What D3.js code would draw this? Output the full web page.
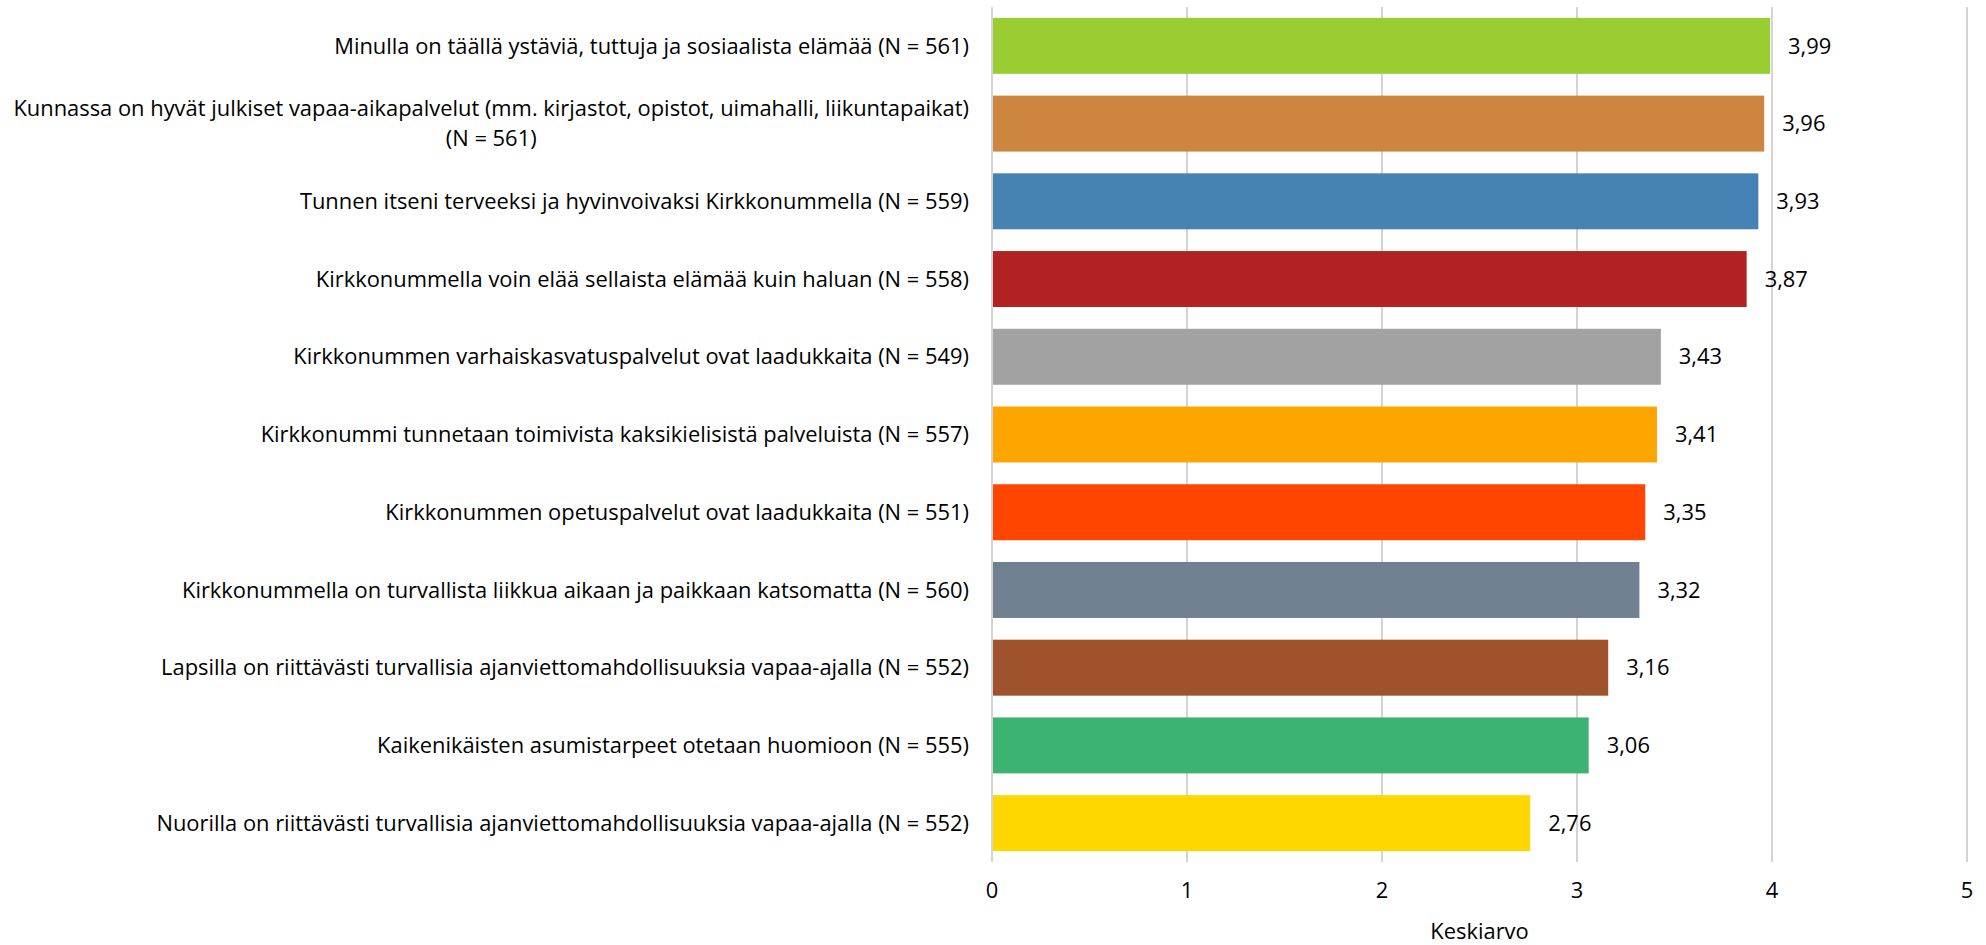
<!DOCTYPE html>
<html>
<head>
<meta charset="utf-8">
<script src="https://cdn.jsdelivr.net/npm/d3@7.9.0/dist/d3.min.js"></script>
<style>
  body { margin: 0; background: #fff; }
  svg text { font-family: "Open Sans", "Noto Sans", sans-serif; fill: #000; }
</style>
</head>
<body>
<svg id="chart" width="1986" height="945"></svg>
<script>
// statements, each label can hold several lines
const labels = [
  ['Minulla on täällä ystäviä, tuttuja ja sosiaalista elämää (N = 561)'],
  ['Kunnassa on hyvät julkiset vapaa-aikapalvelut (mm. kirjastot, opistot, uimahalli, liikuntapaikat)', '(N = 561)'],
  ['Tunnen itseni terveeksi ja hyvinvoivaksi Kirkkonummella (N = 559)'],
  ['Kirkkonummella voin elää sellaista elämää kuin haluan (N = 558)'],
  ['Kirkkonummen varhaiskasvatuspalvelut ovat laadukkaita (N = 549)'],
  ['Kirkkonummi tunnetaan toimivista kaksikielisistä palveluista (N = 557)'],
  ['Kirkkonummen opetuspalvelut ovat laadukkaita (N = 551)'],
  ['Kirkkonummella on turvallista liikkua aikaan ja paikkaan katsomatta (N = 560)'],
  ['Lapsilla on riittävästi turvallisia ajanviettomahdollisuuksia vapaa-ajalla (N = 552)'],
  ['Kaikenikäisten asumistarpeet otetaan huomioon (N = 555)'],
  ['Nuorilla on riittävästi turvallisia ajanviettomahdollisuuksia vapaa-ajalla (N = 552)']
];
const values = [3.99, 3.96, 3.93, 3.87, 3.43, 3.41, 3.35, 3.32, 3.16, 3.06, 2.76];
const colors = ['#9acd32', '#cd853f', '#4682b4', '#b22222', '#a2a2a2', '#ffa500',
                '#ff4500', '#708090', '#a0522d', '#3cb371', '#ffd700'];
const ticks = [0, 1, 2, 3, 4, 5];
const axisTitle = 'Keskiarvo';

const svg = d3.select('#chart');
const plotL = 992, plotR = 1967, plotT = 7, plotB = 862;
const fs = 21.9;

const x = d3.scaleLinear().domain([0, 5]).range([plotL, plotR]);
const y = d3.scaleBand().domain(d3.range(values.length)).range([plotT, plotB])
  .paddingInner(0.28).paddingOuter(0.14);

// vertical gridlines
svg.append('g')
  .selectAll('line')
  .data(ticks)
  .join('line')
  .attr('x1', d => x(d)).attr('x2', d => x(d))
  .attr('y1', plotT).attr('y2', plotB)
  .attr('stroke', '#d4d4d4')
  .attr('stroke-width', 2);

// bars
svg.append('g')
  .selectAll('rect')
  .data(values)
  .join('rect')
  .attr('x', x(0) + 1)
  .attr('y', (d, i) => y(i))
  .attr('width', d => x(d) - x(0) - 1)
  .attr('height', y.bandwidth())
  .attr('fill', (d, i) => colors[i]);

// value labels
svg.append('g')
  .selectAll('text')
  .data(values)
  .join('text')
  .attr('x', d => x(d) + 18)
  .attr('y', (d, i) => y(i) + y.bandwidth() / 2)
  .attr('dy', '0.35em')
  .attr('font-size', fs)
  .text(d => d.toFixed(2).replace('.', ','));

// category labels, multi-line ones are centred on their own block
const lineH = 30;
const catG = svg.append('g');
labels.forEach((lines, i) => {
  const cy = y(i) + y.bandwidth() / 2;
  const t = catG.append('text')
    .attr('font-size', fs)
    .attr('text-anchor', 'end');
  lines.forEach((ln, k) => {
    t.append('tspan')
      .attr('x', plotL - 23)
      .attr('y', cy + (k - (lines.length - 1) / 2) * lineH)
      .attr('dy', '0.35em')
      .text(ln);
  });
  if (lines.length > 1) {
    // centre the shorter lines under the longest one
    const spans = t.selectAll('tspan').nodes();
    const widths = spans.map(s => s.getComputedTextLength());
    const maxW = d3.max(widths);
    spans.forEach((s, k) => {
      d3.select(s).attr('x', plotL - 23 - (maxW - widths[k]) / 2);
    });
  }
});

// x tick labels
svg.append('g')
  .selectAll('text')
  .data(ticks)
  .join('text')
  .attr('x', d => x(d))
  .attr('y', 890)
  .attr('dy', '0.35em')
  .attr('text-anchor', 'middle')
  .attr('font-size', fs)
  .text(d => d);

svg.append('text')
  .attr('x', (plotL + plotR) / 2)
  .attr('y', 931)
  .attr('dy', '0.35em')
  .attr('text-anchor', 'middle')
  .attr('font-size', fs)
  .text(axisTitle);
</script>
</body>
</html>
